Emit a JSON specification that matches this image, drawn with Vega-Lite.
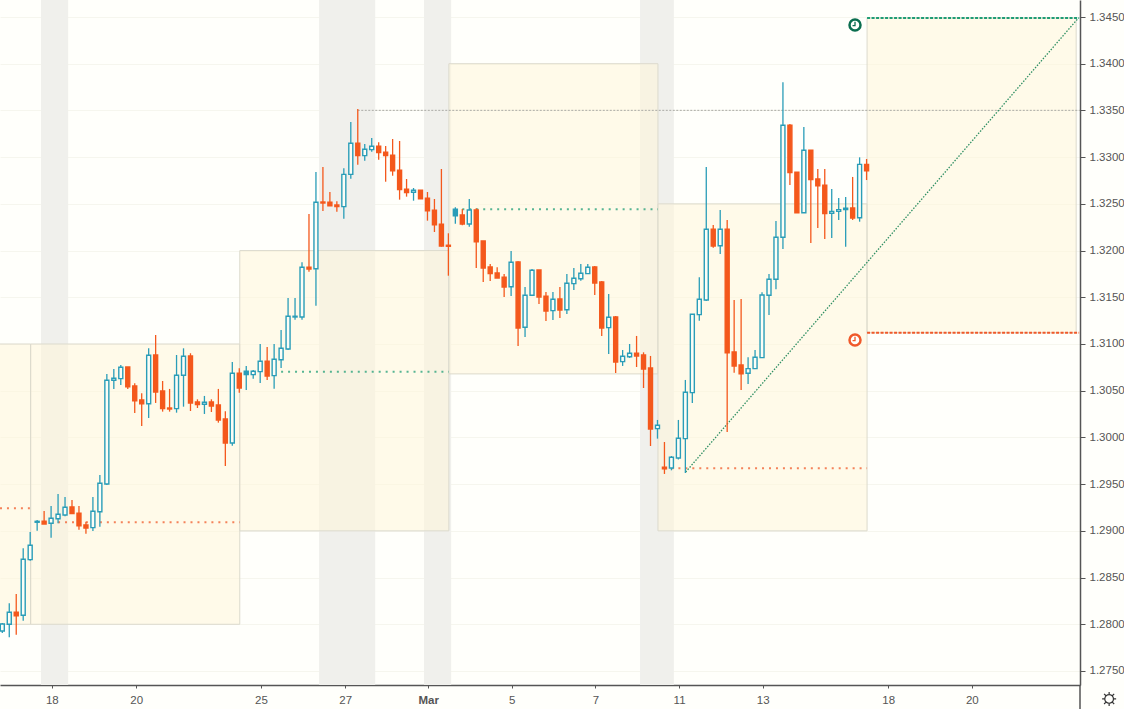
{
  "$schema": "https://vega.github.io/schema/vega-lite/v6.json",
  "description": "Four hour candlestick chart with session boxes, pivot levels and a target projection",
  "width": 1080,
  "height": 685,
  "autosize": "none",
  "padding": {"left": 0, "top": 0, "right": 44, "bottom": 24},
  "background": "#fffffb",
  "config": {"view": {"stroke": null}},
  "datasets": {
    "bands": [
      {"start": 5.55, "end": 9.45},
      {"start": 45.45, "end": 53.5},
      {"start": 60.5, "end": 64.4},
      {"start": 91.5, "end": 96.35}
    ],
    "boxes": [
      {"start": -25.93, "end": 4.07, "low": 1.28, "high": 1.31},
      {"start": 4.07, "end": 34.07, "low": 1.28, "high": 1.31},
      {"start": 34.07, "end": 64.07, "low": 1.29, "high": 1.32},
      {"start": 64.07, "end": 94.07, "low": 1.3068, "high": 1.34},
      {"start": 94.07, "end": 124.07, "low": 1.29, "high": 1.325},
      {"start": 124.07, "end": 154.07, "low": 1.3112, "high": 1.3449}
    ],
    "pivots": [
      {"from": -0.33, "to": 4.07, "price": 1.29242, "side": "sell"},
      {"from": 6, "to": 34.07, "price": 1.29091, "side": "sell"},
      {"from": 39, "to": 64.07, "price": 1.30704, "side": "buy"},
      {"from": 66, "to": 94.07, "price": 1.32442, "side": "buy"},
      {"from": 95, "to": 124.07, "price": 1.2967, "side": "sell"}
    ],
    "targets": [
      {"from": 124.07, "to": 154.5, "price": 1.3449, "side": "buy"},
      {"from": 124.07, "to": 154.5, "price": 1.3112, "side": "sell"}
    ],
    "clocks": [
      {"i": 122.34, "price": 1.34414, "side": "clock buy"},
      {"i": 122.34, "price": 1.31043, "side": "clock sell"}
    ],
    "candles": [
      {"i":0,"o":1.27928,"h":1.28014,"l":1.27907,"c":1.28003,"dir":"up"},
      {"i":1,"o":1.28,"h":1.28225,"l":1.27861,"c":1.28129,"dir":"up"},
      {"i":2,"o":1.28129,"h":1.28324,"l":1.27889,"c":1.28092,"dir":"down"},
      {"i":3,"o":1.28096,"h":1.28813,"l":1.28039,"c":1.28696,"dir":"up"},
      {"i":4,"o":1.28692,"h":1.28988,"l":1.28681,"c":1.28846,"dir":"up"},
      {"i":5,"o":1.29092,"h":1.29116,"l":1.29002,"c":1.29102,"dir":"solid"},
      {"i":6,"o":1.29102,"h":1.29213,"l":1.29074,"c":1.29074,"dir":"down"},
      {"i":7,"o":1.29081,"h":1.29266,"l":1.28927,"c":1.29135,"dir":"up"},
      {"i":8,"o":1.2913,"h":1.29395,"l":1.29081,"c":1.29177,"dir":"up"},
      {"i":9,"o":1.2917,"h":1.29363,"l":1.29156,"c":1.29252,"dir":"up"},
      {"i":10,"o":1.29256,"h":1.2933,"l":1.29184,"c":1.29184,"dir":"down"},
      {"i":11,"o":1.29188,"h":1.29266,"l":1.29013,"c":1.29055,"dir":"down"},
      {"i":12,"o":1.29063,"h":1.29098,"l":1.2897,"c":1.29031,"dir":"down"},
      {"i":13,"o":1.29034,"h":1.29363,"l":1.28999,"c":1.2921,"dir":"up"},
      {"i":14,"o":1.29205,"h":1.29598,"l":1.29045,"c":1.29509,"dir":"up"},
      {"i":15,"o":1.29502,"h":1.30679,"l":1.29491,"c":1.30612,"dir":"up"},
      {"i":16,"o":1.30612,"h":1.30733,"l":1.30519,"c":1.30633,"dir":"up"},
      {"i":17,"o":1.30629,"h":1.30775,"l":1.30561,"c":1.30751,"dir":"up"},
      {"i":18,"o":1.30754,"h":1.30754,"l":1.30519,"c":1.30543,"dir":"down"},
      {"i":19,"o":1.30551,"h":1.3058,"l":1.30262,"c":1.30393,"dir":"down"},
      {"i":20,"o":1.30401,"h":1.30473,"l":1.30123,"c":1.30361,"dir":"down"},
      {"i":21,"o":1.30361,"h":1.30954,"l":1.30208,"c":1.30879,"dir":"up"},
      {"i":22,"o":1.30882,"h":1.31096,"l":1.30369,"c":1.30486,"dir":"down"},
      {"i":23,"o":1.30497,"h":1.30604,"l":1.30276,"c":1.30308,"dir":"down"},
      {"i":24,"o":1.30315,"h":1.30519,"l":1.30276,"c":1.30304,"dir":"down"},
      {"i":25,"o":1.30308,"h":1.30882,"l":1.30265,"c":1.30665,"dir":"up"},
      {"i":26,"o":1.30665,"h":1.30954,"l":1.30329,"c":1.30869,"dir":"up"},
      {"i":27,"o":1.30872,"h":1.30901,"l":1.30283,"c":1.30369,"dir":"down"},
      {"i":28,"o":1.30379,"h":1.30408,"l":1.30315,"c":1.30351,"dir":"down"},
      {"i":29,"o":1.30355,"h":1.30444,"l":1.30251,"c":1.30376,"dir":"up"},
      {"i":30,"o":1.30379,"h":1.30408,"l":1.30272,"c":1.30337,"dir":"down"},
      {"i":31,"o":1.30347,"h":1.30519,"l":1.30158,"c":1.30187,"dir":"down"},
      {"i":32,"o":1.30197,"h":1.3028,"l":1.29694,"c":1.29941,"dir":"down"},
      {"i":33,"o":1.29941,"h":1.30808,"l":1.29912,"c":1.30687,"dir":"up"},
      {"i":34,"o":1.30687,"h":1.3074,"l":1.30479,"c":1.30529,"dir":"down"},
      {"i":35,"o":1.30672,"h":1.30765,"l":1.30508,"c":1.30708,"dir":"solid"},
      {"i":36,"o":1.30672,"h":1.30722,"l":1.30629,"c":1.30708,"dir":"up"},
      {"i":37,"o":1.30704,"h":1.31,"l":1.30583,"c":1.30815,"dir":"up"},
      {"i":38,"o":1.30815,"h":1.30968,"l":1.30615,"c":1.30658,"dir":"down"},
      {"i":39,"o":1.30661,"h":1.31,"l":1.30522,"c":1.30836,"dir":"up"},
      {"i":40,"o":1.30832,"h":1.3115,"l":1.30743,"c":1.30954,"dir":"up"},
      {"i":41,"o":1.30947,"h":1.31493,"l":1.30936,"c":1.31297,"dir":"up"},
      {"i":42,"o":1.31289,"h":1.31493,"l":1.3126,"c":1.31297,"dir":"up"},
      {"i":43,"o":1.31289,"h":1.31875,"l":1.3126,"c":1.31821,"dir":"up"},
      {"i":44,"o":1.31821,"h":1.32392,"l":1.31774,"c":1.31803,"dir":"down"},
      {"i":45,"o":1.31806,"h":1.32841,"l":1.3141,"c":1.32517,"dir":"up"},
      {"i":46,"o":1.3252,"h":1.32895,"l":1.32424,"c":1.32509,"dir":"down"},
      {"i":47,"o":1.32517,"h":1.32627,"l":1.3248,"c":1.3248,"dir":"down"},
      {"i":48,"o":1.32488,"h":1.32527,"l":1.32416,"c":1.3247,"dir":"down"},
      {"i":49,"o":1.3247,"h":1.32881,"l":1.32341,"c":1.32816,"dir":"up"},
      {"i":50,"o":1.32816,"h":1.33376,"l":1.32769,"c":1.33148,"dir":"up"},
      {"i":51,"o":1.33148,"h":1.33515,"l":1.32919,"c":1.33016,"dir":"down"},
      {"i":52,"o":1.33016,"h":1.33141,"l":1.32962,"c":1.33084,"dir":"up"},
      {"i":53,"o":1.3308,"h":1.33205,"l":1.33058,"c":1.33116,"dir":"up"},
      {"i":54,"o":1.33116,"h":1.33159,"l":1.32973,"c":1.33048,"dir":"down"},
      {"i":55,"o":1.33052,"h":1.33119,"l":1.32737,"c":1.33016,"dir":"down"},
      {"i":56,"o":1.3302,"h":1.33194,"l":1.32801,"c":1.32855,"dir":"down"},
      {"i":57,"o":1.32859,"h":1.33173,"l":1.32545,"c":1.32652,"dir":"down"},
      {"i":58,"o":1.32656,"h":1.32766,"l":1.32577,"c":1.3262,"dir":"down"},
      {"i":59,"o":1.32624,"h":1.3267,"l":1.32534,"c":1.32645,"dir":"up"},
      {"i":60,"o":1.32645,"h":1.32648,"l":1.32555,"c":1.32555,"dir":"down"},
      {"i":61,"o":1.3256,"h":1.32627,"l":1.3232,"c":1.32427,"dir":"down"},
      {"i":62,"o":1.32431,"h":1.32552,"l":1.32199,"c":1.32277,"dir":"down"},
      {"i":63,"o":1.32281,"h":1.32873,"l":1.32042,"c":1.32049,"dir":"down"},
      {"i":64,"o":1.32057,"h":1.32185,"l":1.31731,"c":1.32046,"dir":"down"},
      {"i":65,"o":1.32373,"h":1.32463,"l":1.32288,"c":1.32442,"dir":"solid"},
      {"i":66,"o":1.32381,"h":1.32445,"l":1.32272,"c":1.32285,"dir":"down"},
      {"i":67,"o":1.32285,"h":1.32552,"l":1.32256,"c":1.32434,"dir":"up"},
      {"i":68,"o":1.32434,"h":1.32453,"l":1.31814,"c":1.32095,"dir":"down"},
      {"i":69,"o":1.32103,"h":1.32103,"l":1.31664,"c":1.31814,"dir":"down"},
      {"i":70,"o":1.31824,"h":1.31856,"l":1.31674,"c":1.31753,"dir":"down"},
      {"i":71,"o":1.3176,"h":1.31821,"l":1.31707,"c":1.31707,"dir":"down"},
      {"i":72,"o":1.31714,"h":1.31749,"l":1.31503,"c":1.3161,"dir":"down"},
      {"i":73,"o":1.31613,"h":1.31996,"l":1.31514,"c":1.31875,"dir":"up"},
      {"i":74,"o":1.31878,"h":1.31885,"l":1.30979,"c":1.31171,"dir":"down"},
      {"i":75,"o":1.31179,"h":1.3161,"l":1.31075,"c":1.31521,"dir":"up"},
      {"i":76,"o":1.31521,"h":1.31803,"l":1.31514,"c":1.31789,"dir":"up"},
      {"i":77,"o":1.31792,"h":1.31792,"l":1.31428,"c":1.31503,"dir":"down"},
      {"i":78,"o":1.31511,"h":1.31557,"l":1.31246,"c":1.31353,"dir":"down"},
      {"i":79,"o":1.31357,"h":1.31557,"l":1.31257,"c":1.31479,"dir":"up"},
      {"i":80,"o":1.31482,"h":1.3161,"l":1.31278,"c":1.31364,"dir":"down"},
      {"i":81,"o":1.31367,"h":1.31749,"l":1.31321,"c":1.3165,"dir":"up"},
      {"i":82,"o":1.31646,"h":1.31814,"l":1.31578,"c":1.31703,"dir":"up"},
      {"i":83,"o":1.31699,"h":1.31856,"l":1.31678,"c":1.31757,"dir":"up"},
      {"i":84,"o":1.31753,"h":1.31856,"l":1.31749,"c":1.31821,"dir":"up"},
      {"i":85,"o":1.31824,"h":1.31835,"l":1.31525,"c":1.31653,"dir":"down"},
      {"i":86,"o":1.31664,"h":1.31674,"l":1.31086,"c":1.31171,"dir":"down"},
      {"i":87,"o":1.31175,"h":1.31535,"l":1.30893,"c":1.31286,"dir":"up"},
      {"i":88,"o":1.31289,"h":1.313,"l":1.3069,"c":1.30807,"dir":"down"},
      {"i":89,"o":1.30811,"h":1.30936,"l":1.30765,"c":1.30869,"dir":"up"},
      {"i":90,"o":1.30864,"h":1.31,"l":1.3085,"c":1.30901,"dir":"up"},
      {"i":91,"o":1.30901,"h":1.31086,"l":1.30754,"c":1.30872,"dir":"down"},
      {"i":92,"o":1.30882,"h":1.30911,"l":1.30529,"c":1.30733,"dir":"down"},
      {"i":93,"o":1.30743,"h":1.30872,"l":1.29908,"c":1.3009,"dir":"down"},
      {"i":94,"o":1.30094,"h":1.30187,"l":1.29987,"c":1.3013,"dir":"up"},
      {"i":95,"o":1.2968,"h":1.29951,"l":1.29609,"c":1.29665,"dir":"down"},
      {"i":96,"o":1.29673,"h":1.29801,"l":1.29648,"c":1.29787,"dir":"up"},
      {"i":97,"o":1.2978,"h":1.30187,"l":1.29764,"c":1.29991,"dir":"up"},
      {"i":98,"o":1.29987,"h":1.30615,"l":1.29619,"c":1.30483,"dir":"up"},
      {"i":99,"o":1.30479,"h":1.31318,"l":1.30369,"c":1.31318,"dir":"up"},
      {"i":100,"o":1.31314,"h":1.31714,"l":1.3125,"c":1.31479,"dir":"up"},
      {"i":101,"o":1.31471,"h":1.32895,"l":1.3146,"c":1.32228,"dir":"up"},
      {"i":102,"o":1.32228,"h":1.32274,"l":1.32031,"c":1.32049,"dir":"down"},
      {"i":103,"o":1.32052,"h":1.32434,"l":1.31963,"c":1.32228,"dir":"up"},
      {"i":104,"o":1.32228,"h":1.32327,"l":1.30058,"c":1.30907,"dir":"down"},
      {"i":105,"o":1.30915,"h":1.31471,"l":1.30693,"c":1.30765,"dir":"down"},
      {"i":106,"o":1.30775,"h":1.31482,"l":1.30508,"c":1.30682,"dir":"down"},
      {"i":107,"o":1.30687,"h":1.30858,"l":1.30572,"c":1.30736,"dir":"up"},
      {"i":108,"o":1.30736,"h":1.30936,"l":1.30736,"c":1.30858,"dir":"up"},
      {"i":109,"o":1.30854,"h":1.31554,"l":1.30854,"c":1.31525,"dir":"up"},
      {"i":110,"o":1.31521,"h":1.31749,"l":1.31311,"c":1.31693,"dir":"up"},
      {"i":111,"o":1.31693,"h":1.32317,"l":1.31586,"c":1.32142,"dir":"up"},
      {"i":112,"o":1.32142,"h":1.33801,"l":1.32017,"c":1.33341,"dir":"up"},
      {"i":113,"o":1.33341,"h":1.33355,"l":1.32702,"c":1.32834,"dir":"down"},
      {"i":114,"o":1.32838,"h":1.32838,"l":1.32405,"c":1.32405,"dir":"down"},
      {"i":115,"o":1.32405,"h":1.33323,"l":1.32405,"c":1.33073,"dir":"up"},
      {"i":116,"o":1.33073,"h":1.33073,"l":1.32081,"c":1.32759,"dir":"down"},
      {"i":117,"o":1.32766,"h":1.32873,"l":1.32242,"c":1.32694,"dir":"down"},
      {"i":118,"o":1.32699,"h":1.32873,"l":1.32124,"c":1.32395,"dir":"down"},
      {"i":119,"o":1.32399,"h":1.32659,"l":1.32135,"c":1.3242,"dir":"up"},
      {"i":120,"o":1.3242,"h":1.32563,"l":1.32327,"c":1.32438,"dir":"up"},
      {"i":121,"o":1.32438,"h":1.32574,"l":1.32042,"c":1.32453,"dir":"solid"},
      {"i":122,"o":1.32456,"h":1.32788,"l":1.32327,"c":1.32349,"dir":"down"},
      {"i":123,"o":1.32352,"h":1.32998,"l":1.32309,"c":1.32923,"dir":"up"},
      {"i":124,"o":1.32923,"h":1.3298,"l":1.32755,"c":1.32855,"dir":"down"}
    ]
  },
  "layer": [
    {
      "description": "quiet sessions",
      "data": {"name": "bands"},
      "mark": {"type": "rect", "fill": "#f0f0ec"},
      "encoding": {
        "x": {
          "field": "start",
          "type": "quantitative",
          "title": null,
          "scale": {"domain": [-0.33, 154.62], "nice": false, "zero": false, "padding": 0},
          "axis": {
            "orient": "bottom",
            "values": [7.1, 19.2, 37.1, 49.2, 61.1, 73.1, 85.1, 97.1, 109.1, 127.1, 139.1],
            "labelExpr": "['18','20','25','27','Mar','5','7','11','13','18','20'][indexof([7.1,19.2,37.1,49.2,61.1,73.1,85.1,97.1,109.1,127.1,139.1],datum.value)]",
            "labelFontWeight": {"condition": {"test": "datum.value == 61.1", "value": "bold"}, "value": "normal"},
            "grid": false,
            "domainColor": "#555555",
            "domainWidth": 1.5,
            "tickColor": "#555555",
            "tickSize": 3,
            "labelColor": "#555555",
            "labelFont": "Liberation Sans",
            "labelFontSize": 11.5,
            "labelPadding": 6,
            "labelOverlap": false,
            "labelFlush": false
          }
        },
        "x2": {"field": "end"}
      }
    },
    {
      "description": "session boxes",
      "data": {"name": "boxes"},
      "mark": {"type": "rect", "fill": "#fff5d8", "fillOpacity": 0.5, "stroke": "#dcdacd", "strokeWidth": 1, "clip": true},
      "encoding": {
        "x": {"field": "start", "type": "quantitative"},
        "x2": {"field": "end"},
        "y": {
          "field": "low",
          "type": "quantitative",
          "title": null,
          "scale": {"domain": [1.2735, 1.34682], "nice": false, "zero": false, "padding": 0},
          "axis": {
            "orient": "right",
            "values": [1.275, 1.28, 1.285, 1.29, 1.295, 1.3, 1.305, 1.31, 1.315, 1.32, 1.325, 1.33, 1.335, 1.34, 1.345],
            "format": ".4f",
            "grid": true,
            "gridColor": "#f6f6ee",
            "domainColor": "#555555",
            "domainWidth": 1.5,
            "tickColor": "#555555",
            "tickSize": 5,
            "labelColor": "#555555",
            "labelFont": "Liberation Sans",
            "labelFontSize": 11.5,
            "labelPadding": 4,
            "labelOverlap": false,
            "labelFlush": false
          }
        },
        "y2": {"field": "high"}
      }
    },
    {
      "description": "session high line",
      "data": {"values": [{"from": 51, "to": 154.62, "price": 1.33501}]},
      "mark": {"type": "rule", "stroke": "#a9a9a4", "strokeWidth": 1, "strokeDash": [2, 1.5]},
      "encoding": {
        "x": {"field": "from", "type": "quantitative"},
        "x2": {"field": "to"},
        "y": {"field": "price", "type": "quantitative"}
      }
    },
    {
      "description": "pivot levels",
      "data": {"name": "pivots"},
      "mark": {"type": "rule", "strokeWidth": 2, "strokeDash": [2, 4.97], "opacity": 0.75},
      "encoding": {
        "x": {"field": "from", "type": "quantitative"},
        "x2": {"field": "to"},
        "y": {"field": "price", "type": "quantitative"},
        "color": {
          "field": "side",
          "type": "nominal",
          "scale": {"domain": ["buy", "sell", "clock buy", "clock sell"], "range": ["#1f9d75", "#f0592a", "#0b6e4f", "#f0592a"]},
          "legend": null
        }
      }
    },
    {
      "description": "projection",
      "data": {"values": [{"i": 98.05, "price": 1.2963}, {"i": 154.4, "price": 1.3449}]},
      "mark": {"type": "line", "stroke": "#2f8f63", "strokeWidth": 1.3, "strokeDash": [1.5, 1.5]},
      "encoding": {
        "x": {"field": "i", "type": "quantitative"},
        "y": {"field": "price", "type": "quantitative"}
      }
    },
    {
      "description": "targets",
      "data": {"name": "targets"},
      "mark": {"type": "rule", "strokeWidth": 2, "strokeDash": [3, 1.5]},
      "encoding": {
        "x": {"field": "from", "type": "quantitative"},
        "x2": {"field": "to"},
        "y": {"field": "price", "type": "quantitative"},
        "color": {"field": "side", "type": "nominal", "legend": null}
      }
    },
    {
      "description": "wicks",
      "data": {"name": "candles"},
      "mark": {"type": "rule", "strokeWidth": 1.3},
      "encoding": {
        "x": {"field": "i", "type": "quantitative"},
        "y": {"field": "l", "type": "quantitative"},
        "y2": {"field": "h"},
        "stroke": {
          "field": "dir",
          "type": "nominal",
          "scale": {"domain": ["up", "solid", "down"], "range": ["#2a9db8", "#2a9db8", "#f4581c"]},
          "legend": null
        }
      }
    },
    {
      "description": "bodies",
      "data": {"name": "candles"},
      "mark": {"type": "bar", "width": 4, "strokeWidth": 1.4},
      "encoding": {
        "x": {"field": "i", "type": "quantitative"},
        "y": {"field": "o", "type": "quantitative"},
        "y2": {"field": "c"},
        "stroke": {"field": "dir", "type": "nominal", "legend": null},
        "fill": {
          "field": "dir",
          "type": "nominal",
          "scale": {"domain": ["up", "solid", "down"], "range": ["#fbfdf6", "#2a9db8", "#f4581c"]},
          "legend": null
        },
        "opacity": {"value": 1}
      }
    },
    {
      "description": "clock rings",
      "data": {"name": "clocks"},
      "mark": {"type": "point", "shape": "circle", "size": 121, "strokeWidth": 2.5, "filled": false, "fill": "#fffffb", "fillOpacity": 1, "opacity": 1},
      "encoding": {
        "x": {"field": "i", "type": "quantitative"},
        "y": {"field": "price", "type": "quantitative"},
        "color": {"field": "side", "type": "nominal", "legend": null}
      }
    },
    {
      "description": "clock hands",
      "data": {"name": "clocks"},
      "mark": {"type": "point", "shape": "M0,-0.6L0,0.1L-0.45,0.1", "size": 121, "strokeWidth": 1.3, "filled": false, "opacity": 1},
      "encoding": {
        "x": {"field": "i", "type": "quantitative"},
        "y": {"field": "price", "type": "quantitative"},
        "color": {"field": "side", "type": "nominal", "legend": null}
      }
    },
    {
      "description": "price axis runs on past the time axis",
      "data": {"values": [{"at": 154.62, "from": 1.2735, "to": 1.27094}]},
      "mark": {"type": "rule", "stroke": "#555555", "strokeWidth": 1.5, "clip": false},
      "encoding": {
        "x": {"field": "at", "type": "quantitative"},
        "y": {"field": "from", "type": "quantitative"},
        "y2": {"field": "to"}
      }
    },
    {
      "description": "settings",
      "data": {"values": [{"at": 158.8, "price": 1.27201}]},
      "mark": {
        "type": "point",
        "shape": "M0.62,0A0.62,0.62 0 1 1 -0.62,0A0.62,0.62 0 1 1 0.62,0ZM0,-1L0,-0.62M0,0.62L0,1M-1,0L-0.62,0M0.62,0L1,0M-0.72,-0.72L-0.45,-0.45M0.72,-0.72L0.45,-0.45M-0.72,0.72L-0.45,0.45M0.72,0.72L0.45,0.45",
        "size": 196,
        "stroke": "#333333",
        "strokeWidth": 1.2,
        "filled": false,
        "opacity": 1,
        "clip": false
      },
      "encoding": {
        "x": {"field": "at", "type": "quantitative"},
        "y": {"field": "price", "type": "quantitative"}
      }
    }
  ]
}
